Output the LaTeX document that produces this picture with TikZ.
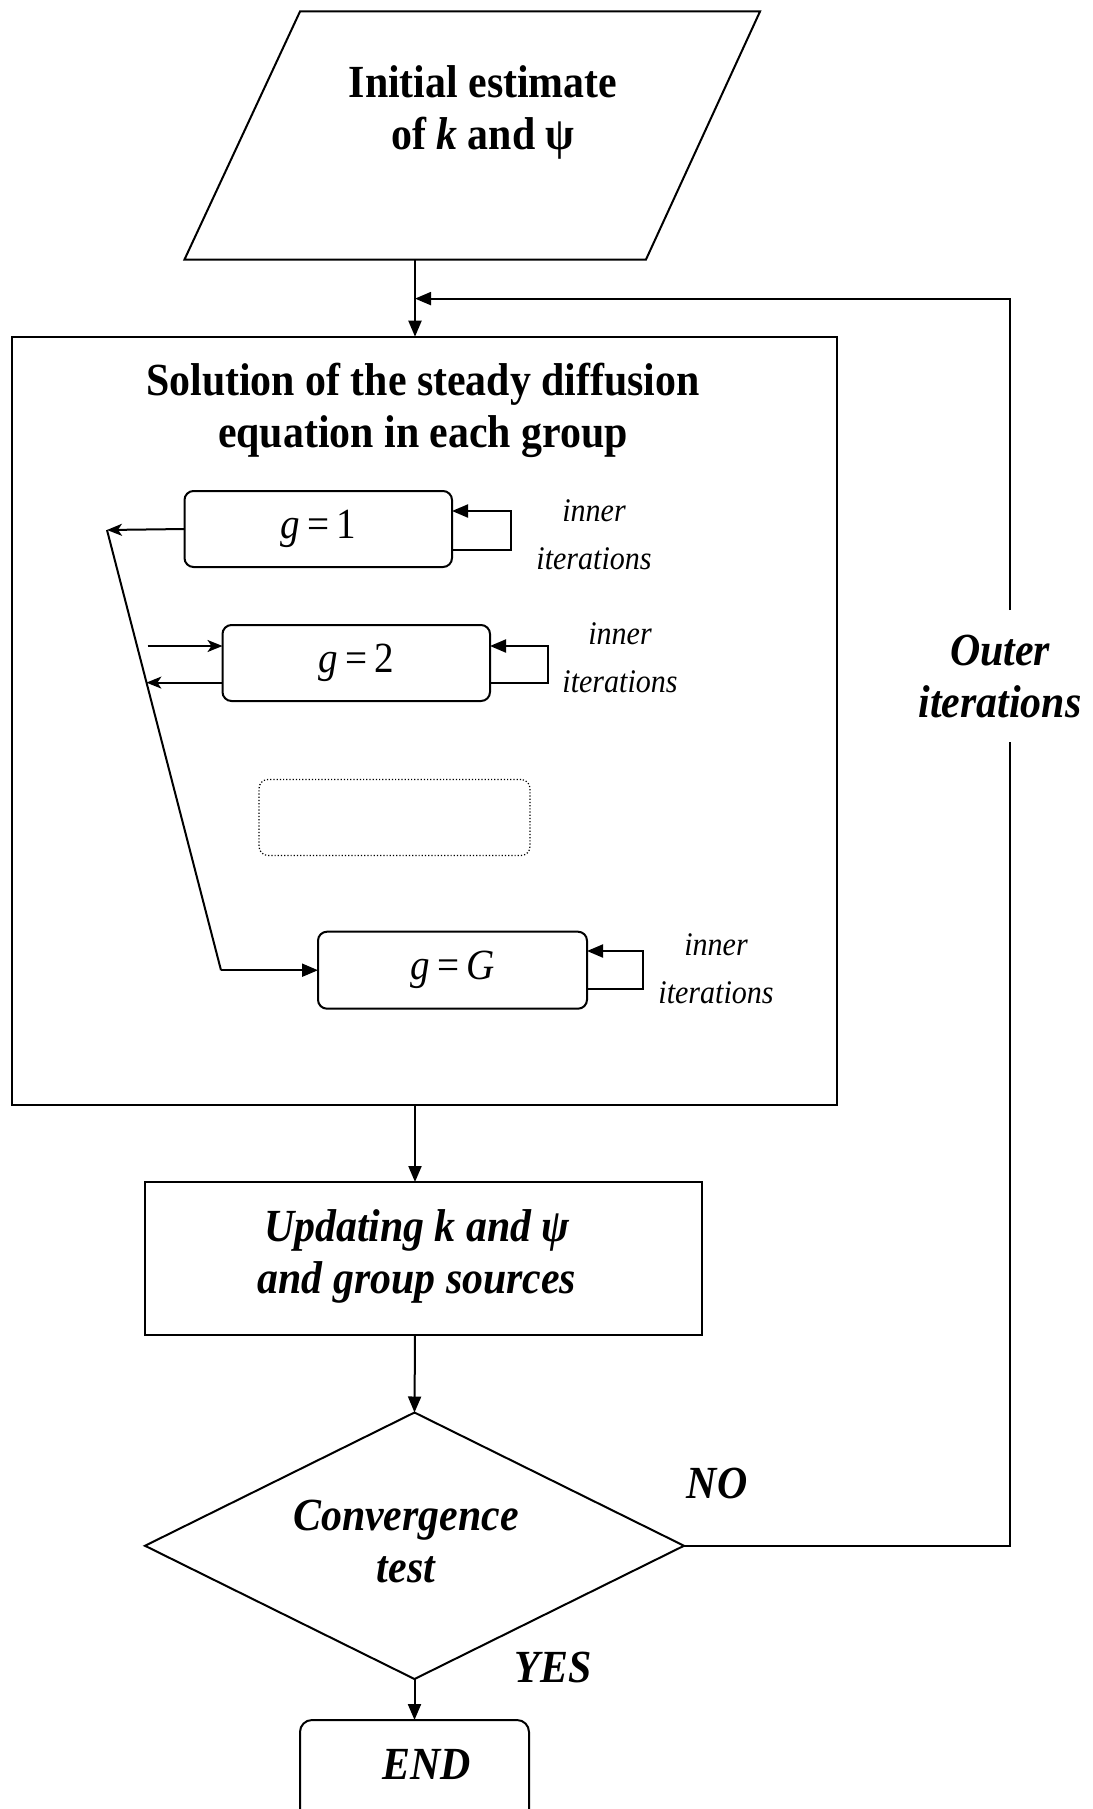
\documentclass[tikz,border=0pt]{standalone}
\usepackage{fontspec}
\setmainfont{Liberation Serif}[FakeStretch=0.91]
\usetikzlibrary{arrows.meta,shapes.geometric}
\newcommand\fsBig{\fontsize{46}{52}\selectfont}
\newcommand\fsGg{\fontsize{43}{48}\selectfont}
\newcommand\fsInner{\fontsize{33}{48}\selectfont}
\begin{document}
\begin{tikzpicture}[x=1pt,y=-1pt,line width=2pt,
  tri/.style={-{Triangle[length=16pt,width=13pt]}},
  stl/.style={-{Stealth[length=15pt,width=12pt,inset=4pt]}},
  sqbox/.style={draw,inner sep=0pt,outer sep=0pt,anchor=north west},
  gbox/.style={draw,rounded corners=9pt,inner sep=0pt,outer sep=0pt,anchor=north west,font=\fsGg},
  bigtxt/.style={font=\fsBig\bfseries,align=center},
  bigit/.style={font=\fsBig\bfseries\itshape,align=center},
  innertxt/.style={font=\fsInner\itshape,align=center}]
\useasboundingbox (0,0) rectangle (1092,1809);
\fill[white] (0,0) rectangle (1092,1809);
% initial estimate (parallelogram)
\draw (300,11.5) -- (760,11.5) -- (646,259.5) -- (184.5,259.5) -- cycle;
\node[bigtxt] (init) at (483,112) {Initial estimate\\of \textit{k} and ψ};
\coordinate (initb) at (415,259.5);
\coordinate (ax) at (415,0);
\coordinate (rx) at (1010,0);
% solution box
\node[sqbox,minimum width=825.5pt,minimum height=768pt] (sol) at (11.5,336.7) {};
\node[bigtxt] (soltitle) at (423,410) {Solution of the steady diffusion\\equation in each group};
% group boxes
\node[gbox,minimum width=267.5pt,minimum height=76pt] (g1) at (184.5,491) {\textit{g}\,=\,1};
\node[gbox,minimum width=267.5pt,minimum height=76pt] (g2) at (222.5,625) {\textit{g}\,=\,2};
\node[draw,dotted,line width=1.2pt,rounded corners=9pt,inner sep=0pt,outer sep=0pt,anchor=north west,minimum width=271pt,minimum height=76pt] (gdots) at (259,779.5) {};
\node[gbox,minimum width=269pt,minimum height=77pt] (gG) at (318,931.7) {\textit{g}\,=\,\textit{G}};
% inner iteration loops
\draw[tri] (g1.east |- 0,550) -| (511,511) -- (g1.east |- 0,511);
\draw[tri] (g2.east |- 0,682.6) -| (547.7,646) -- (g2.east |- 0,646);
\draw[tri] (gG.east |- 0,989) -| (643,951) -- (gG.east |- 0,951);
\node[innertxt] (in1) at (594,535) {inner\\iterations};
\node[innertxt] (in2) at (620,658) {inner\\iterations};
\node[innertxt] (in3) at (716,969) {inner\\iterations};
% left side connectors
\coordinate (ltop) at (107,530);
\coordinate (lbot) at (221,970.2);
\coordinate (g2in) at (147.6,646);
\coordinate (g2out) at (146.4,682.6);
\draw[stl] (g1.west) -- (ltop);
\draw (ltop) -- (lbot);
\draw[tri] (lbot) -- (gG.west);
\draw[stl] (g2in) -- (g2.west |- g2in);
\draw[stl] (g2.west |- g2out) -- (g2out);
% update box
\node[sqbox,minimum width=557pt,minimum height=153pt] (upd) at (145,1182) {};
\node[bigit] (updtxt) at (417,1256) {Updating k and ψ\\and group sources};
% convergence test
\node[diamond,draw,inner sep=0pt,outer sep=0pt,minimum width=539pt,minimum height=266.5pt] (conv) at (414.5,1545.75) {};
\node[bigit] (convtxt) at (406,1541) {Convergence\\test};
% end
\node[draw,rounded corners=12pt,inner sep=0pt,outer sep=0pt,anchor=north west,minimum width=229pt,minimum height=120pt] (endb) at (300,1720) {};
\node[bigit] (endtxt) at (427,1764) {END};
\node[bigit] (no) at (717,1483) {NO};
\node[bigit] (yes) at (553,1667) {YES};
% main flow
\draw[tri] (initb) -- (sol.north -| ax);
\draw[tri] (sol.south -| ax) -- (upd.north -| ax);
\draw[tri] (upd.south -| ax) -- (conv.north);
\draw[tri] (conv.south) -- (endb.north -| conv.south);
% outer iterations
\node[bigit,inner sep=0pt,minimum height=130pt] (outer) at (1000,676) {Outer\\iterations};
\draw (conv.east) -- (conv.east -| rx) -- (outer.south -| rx);
\draw[tri] (outer.north -| rx) -- (rx |- 0,298.6) -- (ax |- 0,298.6);
\end{tikzpicture}
\end{document}
